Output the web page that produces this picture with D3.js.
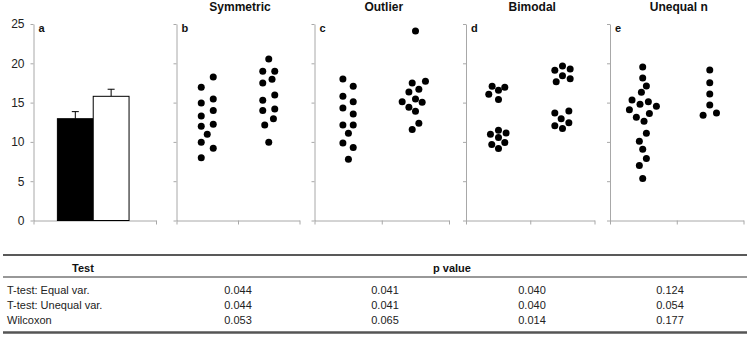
<!DOCTYPE html>
<html><head><meta charset="utf-8">
<script src="https://cdn.jsdelivr.net/npm/d3@7"></script>
<style>body{margin:0;background:#fff}svg{display:block}text{font-family:"Liberation Sans",Arial,sans-serif}</style>
</head><body><svg id="c" width="750" height="348"></svg>
<script>
// ---- data ----
const yTicks = [0, 5, 10, 15, 20, 25];
const barMeans = [12.95, 15.8];
const barErrors = [0.9, 0.9];
const barFills = ["#000", "#fff"];
const panelTitles = ["", "Symmetric", "Outlier", "Bimodal", "Unequal n"];
const panelLetters = ["a", "b", "c", "d", "e"];

const symA = [16.95, 18.26, 14.96, 15.46, 13.98, 13.3, 11.99, 12.25, 10.98, 9.96, 9.2, 7.97];
const symAj = [-1, 1, -1, 1, 1, -1, -1, 1, 0, -1, 1, -1];
const symB = [20.55, 18.98, 18.98, 17.96, 17.5, 15.97, 15.3, 14.19, 13.98, 12.96, 12.16, 9.96];
const symBj = [0, -1, 1, 0.55, -1, 1, -1, 1, -1, 0.78, -0.67, 0];

const outA = [18.0, 17.07, 15.8, 15.12, 14.32, 13.56, 12.16, 12.16, 11.1, 9.87, 9.28, 7.8];
const outAj = [-0.87, 0.85, -0.87, 0.85, -0.87, 0.85, -0.87, 0.85, 0.05, -0.87, 0.85, 0.05];
const outB = [24.1, 17.71, 17.5, 16.7, 16.35, 15.46, 15.12, 15.04, 14.41, 13.9, 12.37, 11.57];
const outBj = [0.02, 1.68, -0.53, 0.58, -1.08, 0.02, -2.2, 1.13, -1.08, 0.02, 0.58, -0.53];

const bimA = [17.07, 16.95, 16.57, 16.06, 15.38, 11.49, 10.98, 11.14, 10.55, 9.66, 9.91, 9.15];
const bimAj = [-1, 1.11, 0.06, -1.56, 0.06, 0.06, -1.28, 1.33, 0.06, -1.06, 1.11, 0.06];
const bimB = [19.66, 19.11, 19.28, 18.43, 17.66, 18.04, 13.69, 13.94, 12.96, 12.07, 12.45, 11.69];
const bimBj = [0.02, -1.26, 1.3, 0.02, -1.03, 1.3, -1.26, 1.08, -0.2, -1.26, 1.08, 0.02];

const uneA = [19.53, 18.13, 17.12, 16.31, 15.34, 15.12, 14.79, 14.53, 14.1, 13.6, 13.13, 12.63, 11.1, 10.09, 9.07, 7.88, 6.99, 5.34];
const uneAj = [-0.11, -0.11, 0.5, -0.33, -1.89, 0.83, -0.56, 2.17, -2.33, 1, -1.17, 0.11, 0.5, -0.67, -0.11, 0.5, -0.67, -0.11];
const uneB = [19.15, 17.54, 16.1, 14.7, 13.39, 13.69];
const uneBj = [-0.06, -0.06, -0.06, -0.06, -1.17, 1.06];

const tests = ["T-test: Equal var.", "T-test: Unequal var.", "Wilcoxon"];
const pSymmetric = [0.044, 0.044, 0.053];
const pOutlier = [0.041, 0.041, 0.065];
const pBimodal = [0.040, 0.040, 0.014];
const pUnequal = [0.124, 0.054, 0.177];

// ---- layout ----
const svg = d3.select("#c");
const axisColor = "#a8a8a8";
const y = d3.scaleLinear().domain([0, 25]).range([220.5, 24]);
const panelX = [[33.5, 156], [176.5, 299.5], [314.5, 449], [466, 594.5], [610, 743.5]];
const dotSpacing = 6;

const dotPanels = [
  [[symA, symAj], [symB, symBj]],
  [[outA, outAj], [outB, outBj]],
  [[bimA, bimAj], [bimB, bimBj]],
  [[uneA, uneAj], [uneB, uneBj]]
];

panelX.forEach((px, i) => {
  const g = svg.append("g");
  const nCat = i === 0 ? 1 : 2;
  const x = d3.scaleLinear().domain([0, nCat]).range(px);
  // y axis
  const ya = g.append("g").attr("transform", `translate(${px[0]},0)`)
    .call(d3.axisLeft(y).tickValues(yTicks).tickSize(3).tickSizeOuter(0)
      .tickFormat(i === 0 ? d3.format("d") : () => ""));
  // x axis
  const xa = g.append("g").attr("transform", `translate(0,${y(0)})`)
    .call(d3.axisBottom(x).tickValues(d3.range(nCat + 1)).tickSize(4).tickSizeOuter(0).tickFormat(() => ""));
  [ya, xa].forEach(a => {
    a.selectAll("path,line").attr("stroke", axisColor).attr("stroke-width", 1);
    a.selectAll("text").attr("fill", "#222").style("font-size", "12px").attr("x", -9);
  });
  // letter
  g.append("text").attr("x", px[0] + 5).attr("y", 32).text(panelLetters[i])
    .style("font-size", "11px").style("font-weight", "bold").attr("fill", "#111");
  // title
  if (panelTitles[i]) {
    g.append("text").attr("x", (px[0] + px[1]) / 2 + 2).attr("y", 11).attr("text-anchor", "middle")
      .text(panelTitles[i]).style("font-size", "12px").style("font-weight", "bold").attr("fill", "#111");
  }
  if (i === 0) {
    const bx = d3.scaleBand().domain(d3.range(barMeans.length)).range([x(0.195), x(0.78)]);
    barMeans.forEach((m, k) => {
      const cx = bx(k) + bx.bandwidth() / 2;
      g.append("line").attr("x1", cx).attr("x2", cx).attr("y1", y(m)).attr("y2", y(m + barErrors[k]))
        .attr("stroke", "#000").attr("stroke-width", 1);
      g.append("line").attr("x1", cx - 3.5).attr("x2", cx + 3.5).attr("y1", y(m + barErrors[k])).attr("y2", y(m + barErrors[k]))
        .attr("stroke", "#000").attr("stroke-width", 1);
      g.append("rect").attr("x", bx(k)).attr("y", y(m)).attr("width", bx.bandwidth()).attr("height", y(0) - y(m))
        .attr("fill", barFills[k]).attr("stroke", "#000").attr("stroke-width", 1);
    });
  } else {
    dotPanels[i - 1].forEach(([vals, jit], k) => {
      const cx = x(k + 0.5);
      g.selectAll(null).data(vals).join("circle")
        .attr("cx", (d, j) => cx + jit[j] * dotSpacing)
        .attr("cy", d => y(d)).attr("r", 3.5).attr("fill", "#000");
    });
  }
});

// ---- table ----
const tbl = svg.append("g");
const tx0 = 3, tx1 = 747;
tbl.append("line").attr("x1", tx0).attr("x2", tx1).attr("y1", 255).attr("y2", 255).attr("stroke", "#222").attr("stroke-width", 1.5);
tbl.append("line").attr("x1", tx0).attr("x2", tx1).attr("y1", 277).attr("y2", 277).attr("stroke", "#333").attr("stroke-width", 1.2);
tbl.append("line").attr("x1", tx0).attr("x2", tx1).attr("y1", 332.5).attr("y2", 332.5).attr("stroke", "#555").attr("stroke-width", 2.5);
tbl.append("text").attr("x", 83).attr("y", 271.5).attr("text-anchor", "middle").text("Test")
  .style("font-size", "11px").style("font-weight", "bold").attr("fill", "#111");
tbl.append("text").attr("x", 452).attr("y", 271.5).attr("text-anchor", "middle").text("p value")
  .style("font-size", "11px").style("font-weight", "bold").attr("fill", "#111");
const rowY = [294, 309, 324];
const colX = [238, 385, 532, 670];
const pCols = [pSymmetric, pOutlier, pBimodal, pUnequal];
tests.forEach((t, r) => {
  tbl.append("text").attr("x", 7).attr("y", rowY[r]).text(t).style("font-size", "11px").attr("fill", "#222");
  pCols.forEach((col, c) => {
    tbl.append("text").attr("x", colX[c]).attr("y", rowY[r]).attr("text-anchor", "middle")
      .text(d3.format(".3f")(col[r])).style("font-size", "11px").attr("fill", "#222");
  });
});
</script></body></html>
